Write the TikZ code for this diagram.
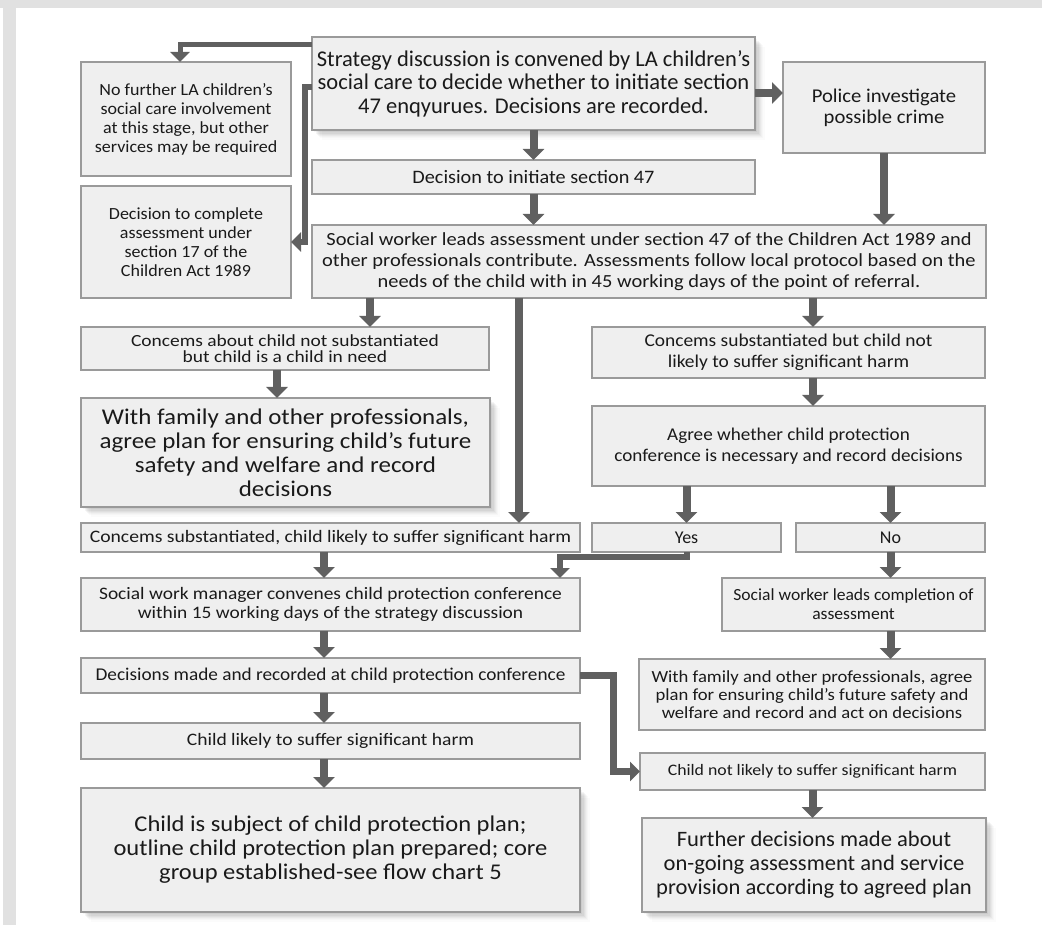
\documentclass[tikz,border=0pt]{standalone}
\usepackage{fontspec}
\setmainfont{Carlito}
\usetikzlibrary{arrows.meta,shadows,calc}
\definecolor{boxfill}{HTML}{EFEFEF}
\definecolor{boxline}{HTML}{9A9A9A}
\definecolor{arrowc}{HTML}{606060}
\definecolor{framec}{HTML}{E1E1E1}
\definecolor{txt}{HTML}{1A1A1A}
\newcommand\fst[3]{\addfontfeatures{FakeStretch=#3}\fontsize{#1}{#2}\selectfont}
\tikzset{
  box/.style={draw=boxline, line width=2.2pt, fill=boxfill, anchor=north west,
    inner sep=0pt, outer sep=0pt, align=center, text=txt},
  shadowed/.style={
    drop shadow={shadow xshift=1.2pt,shadow yshift=-1.2pt,opacity=.04,fill=black},
    drop shadow={shadow xshift=2.4pt,shadow yshift=-2.4pt,opacity=.04,fill=black},
    drop shadow={shadow xshift=3.6pt,shadow yshift=-3.6pt,opacity=.04,fill=black},
    drop shadow={shadow xshift=4.8pt,shadow yshift=-4.8pt,opacity=.035,fill=black},
    drop shadow={shadow xshift=6pt,shadow yshift=-6pt,opacity=.03,fill=black},
    drop shadow={shadow xshift=7.2pt,shadow yshift=-7.2pt,opacity=.025,fill=black},
    drop shadow={shadow xshift=8.4pt,shadow yshift=-8.4pt,opacity=.02,fill=black},
    drop shadow={shadow xshift=9.6pt,shadow yshift=-9.6pt,opacity=.015,fill=black}},
  arr/.style={draw=arrowc, line width=8pt, -{Triangle[width=21pt,length=11pt]}},
  conn/.style={draw=arrowc, line width=6pt, line join=miter, -{Triangle[width=19pt,length=10pt]}},
  thinconn/.style={conn, line width=5pt},
}
\begin{document}
\begin{tikzpicture}[x=1pt,y=-1pt]
\useasboundingbox (0,0) rectangle (1042,925);
\fill[white] (0,0) rectangle (1042,925);
\fill[framec] (0,0) rectangle (1042,8);
\fill[framec] (3,0) rectangle (16,925);

% column coordinates
\coordinate (cG) at (370,0);
\coordinate (cH) at (519,0);
\coordinate (cI) at (813,0);
\coordinate (cJ) at (277,0);
\coordinate (cP) at (324,0);

\node[box, shadowed, minimum width=443pt, minimum height=93pt, font=\fst{22.5}{23.5}{1.0}] (strat) at (312,37)
  {Strategy discussion is convened by LA children's\\social care to decide whether to initiate section\\47 enqyurues. Decisions are recorded.};
\node[box, minimum width=210pt, minimum height=114pt, font=\fst{17}{19}{1.06}] (nofur) at (81,62)
  {No further LA children's\\social care involvement\\at this stage, but other\\services may be required};
\node[box, minimum width=202pt, minimum height=91pt, font=\fst{19.5}{21}{1.06}] (police) at (783,62)
  {Police investigate\\possible crime};
\node[box, minimum width=443pt, minimum height=34pt, font=\fst{19}{20}{1.065}] (init) at (312,160)
  {Decision to initiate section 47};
\node[box, minimum width=210pt, minimum height=112pt, font=\fst{17}{19}{1.06}] (comp) at (81,186)
  {Decision to complete\\assessment under\\section 17 of the\\Children Act 1989};
\node[box, minimum width=674pt, minimum height=73pt, font=\fst{18.5}{21}{1.105}] (sw) at (312,225)
  {Social worker leads assessment under section 47 of the Children Act 1989 and\\other professionals contribute. Assessments follow local protocol based on the\\needs of the child with in 45 working days of the point of referral.};
\node[box, minimum width=408pt, minimum height=43pt, font=\fst{17}{16}{1.145}] (notsub) at (81,327)
  {Concems about child not substantiated\\but child is a child in need};
\node[box, shadowed, minimum width=409pt, minimum height=109pt, font=\fst{22.5}{24}{1.11}] (fam1) at (81,398)
  {With family and other professionals,\\agree plan for ensuring child's future\\safety and welfare and record\\decisions};
\node[box, minimum width=499pt, minimum height=29pt, font=\fst{17.5}{20}{1.124}] (likely) at (81,523)
  {Concems substantiated, child likely to suffer significant harm};
\node[box, minimum width=393pt, minimum height=51pt, font=\fst{18}{21}{1.08}] (notlikely) at (592,327)
  {Concems substantiated but child not\\likely to suffer significant harm};
\node[box, minimum width=393pt, minimum height=80pt, font=\fst{18}{21}{1.064}] (agree) at (592,406)
  {Agree whether child protection\\conference is necessary and record decisions};
\node[box, minimum width=189pt, minimum height=29pt, font=\fst{18}{20}{1.0}] (yes) at (592,523) {Yes};
\node[box, minimum width=189pt, minimum height=29pt, font=\fst{18}{20}{1.0}] (no) at (796,523) {No};
\node[box, minimum width=499pt, minimum height=53pt, font=\fst{17.5}{19}{1.11}] (mgr) at (81,578)
  {Social work manager convenes child protection conference\\within 15 working days of the strategy discussion};
\node[box, minimum width=263pt, minimum height=53pt, font=\fst{17}{19}{1.035}] (swc) at (722,578)
  {Social worker leads completion of\\assessment};
\node[box, minimum width=499pt, minimum height=35pt, font=\fst{18}{20}{1.07}] (dec) at (81,658)
  {Decisions made and recorded at child protection conference};
\node[box, minimum width=346pt, minimum height=71pt, font=\fst{17}{18}{1.097}] (fam2) at (639,659)
  {With family and other professionals, agree\\plan for ensuring child's future safety and\\welfare and record and act on decisions};
\node[box, minimum width=499pt, minimum height=36pt, font=\fst{17.5}{20}{1.118}] (harm) at (81,723)
  {Child likely to suffer significant harm};
\node[box, minimum width=345pt, minimum height=37pt, font=\fst{16}{18}{1.11}] (notharm) at (640,753)
  {Child not likely to suffer significant harm};
\node[box, shadowed, minimum width=499pt, minimum height=124pt, font=\fst{22.5}{24}{1.09}] (cpp) at (81,788)
  {Child is subject of child protection plan;\\outline child protection plan prepared; core\\group established-see flow chart 5};
\node[box, shadowed, minimum width=344pt, minimum height=94pt, font=\fst{22}{24}{1.026}] (further) at (642,818)
  {Further decisions made about\\on-going assessment and service\\provision according to agreed plan};

% connectors
\draw[thinconn] ([yshift=-8pt]strat.north west) -| ([xshift=-6pt]nofur.north);
\draw[conn] ([yshift=-50pt]strat.north west) -- ++(-7,0) |- (comp.east);
\draw[arr] ([yshift=-9.5pt]strat.east) -- ([yshift=-9.5pt]strat.east -| police.west);
\draw[arr] (strat.south) -- (init.north);
\draw[arr] (init.south) -- (init.south |- sw.north);
\draw[arr] (police.south) -- (police.south |- sw.north);
\draw[arr] (sw.south -| cG) -- (notsub.north -| cG);
\draw[arr] (sw.south -| cH) -- (likely.north -| cH);
\draw[arr] (sw.south -| cI) -- (notlikely.north -| cI);
\draw[arr] (notsub.south -| cJ) -- (fam1.north -| cJ);
\draw[arr] (notlikely.south -| cI) -- (agree.north -| cI);
\draw[arr] (agree.south -| yes.north) -- (yes.north);
\draw[arr] (agree.south -| no.north) -- (no.north);
\draw[arr] (no.south) -- (swc.north -| no.south);
\draw[arr] (swc.south -| no.south) -- (fam2.north -| no.south);
\draw[conn] (yes.south) -- ++(0,5) -| ([xshift=-20pt]mgr.north east);
\draw[arr] (likely.south -| cP) -- (mgr.north -| cP);
\draw[arr] (mgr.south -| cP) -- (dec.north -| cP);
\draw[arr] (dec.south -| cP) -- (harm.north -| cP);
\draw[arr] (harm.south -| cP) -- (cpp.north -| cP);
\draw[conn, line width=7pt] (dec.east) -- ++(33,0) |- (notharm.west);
\draw[arr] (notharm.south) -- (further.north -| notharm.south);
\end{tikzpicture}
\end{document}
